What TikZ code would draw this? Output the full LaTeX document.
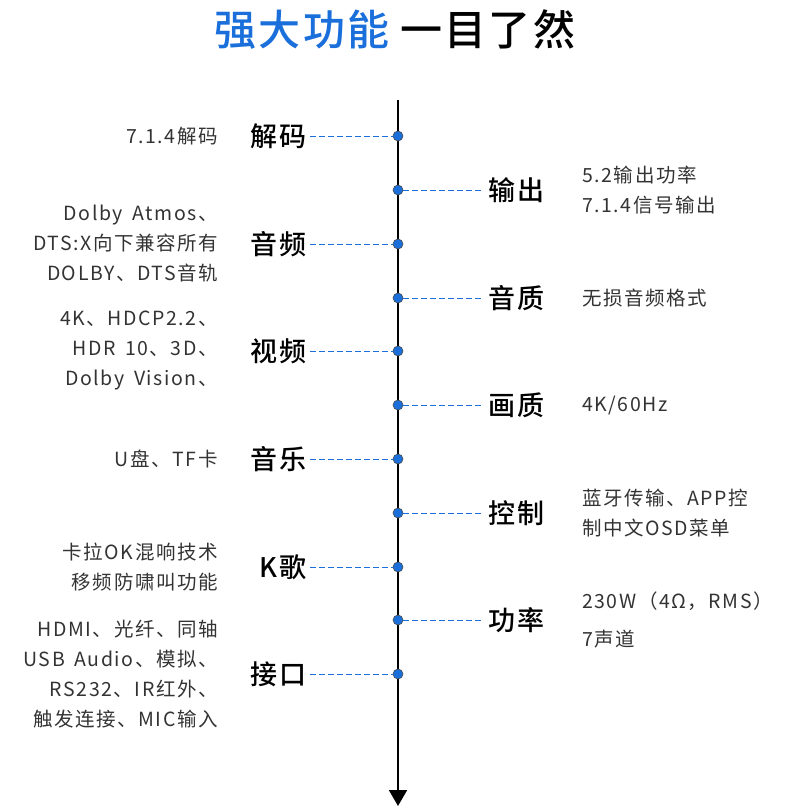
\documentclass[tikz,border=0pt]{standalone}
\usepackage{fontspec}
\setmainfont{Noto Sans CJK SC}
\newfontfamily\descfont[LetterSpace=8,WordSpace=1.6]{Noto Sans CJK SC}
\newfontfamily\itemfont[LetterSpace=8]{Noto Sans CJK SC Medium}
\newfontfamily\titlefont[LetterSpace=5]{Noto Sans CJK SC Medium}
\usetikzlibrary{arrows.meta}
\definecolor{dotblue}{HTML}{1A6FDB}
\definecolor{txtgray}{HTML}{333333}
\tikzset{
  dot/.style={circle,fill=dotblue,draw=black!70,line width=0.6pt,minimum size=10pt,inner sep=0pt},
  item/.style={font=\itemfont\fontsize{27}{30}\selectfont,inner sep=0pt},
  desc/.style={font=\descfont\fontsize{19.5}{30}\selectfont,text=txtgray,inner sep=0pt,align=left},
  link/.style={dotblue,dashed,dash pattern=on 6pt off 3pt,line width=0.7pt}
}
\begin{document}
\begin{tikzpicture}[x=1pt,y=-1pt]
\useasboundingbox (0,0) rectangle (790,809);
\node[font=\titlefont\fontsize{42}{44}\selectfont,inner sep=0pt] (title) at (395,30)
  {\textcolor{dotblue}{强大功能} 一目了然};
\coordinate (top) at (398,100);
\coordinate (bot) at (398,806);
\draw[line width=2pt,-{Triangle[length=16pt,width=18pt]}] (top) -- (bot);
% left side
\foreach \y/\name/\lab/\txt in {136/a/解码/{7.1.4解码},
  244/c/音频/{Dolby Atmos、\\DTS:X向下兼容所有\\DOLBY、DTS音轨},
  351/e/视频/{4K、HDCP2.2、\\HDR 10、3D、\\Dolby Vision、},
  459/g/音乐/{U盘、TF卡},
  567/i/K歌/{卡拉OK混响技术\\移频防啸叫功能},
  674/k/接口/{HDMI、光纤、同轴\\USB Audio、模拟、\\RS232、IR红外、\\触发连接、MIC输入}}{
  \node[dot] (d\name) at (398,\y) {};
  \node[item,anchor=east] (l\name) at (307,\y) {\lab};
  \node[desc,anchor=east,align=right] (t\name) at (218,\y) {\txt};
  \draw[link] (l\name.east) ++(3pt,0) -- (d\name.west);
}
% right side
\foreach \y/\name/\lab/\txt in {190/b/输出/{5.2输出功率\\7.1.4信号输出},
  298/d/音质/{无损音频格式},
  405/f/画质/{4K/60Hz},
  513/h/控制/{蓝牙传输、APP控\\制中文OSD菜单},
  620/j/功率/{230W（4Ω，RMS）\\[8pt]7声道}}{
  \node[dot] (d\name) at (398,\y) {};
  \node[item,anchor=west] (l\name) at (488,\y) {\lab};
  \node[desc,anchor=west] (t\name) at (582,\y) {\txt};
  \draw[link] (d\name.east) -- ([xshift=-4pt]l\name.west);
}
\end{tikzpicture}
\end{document}
